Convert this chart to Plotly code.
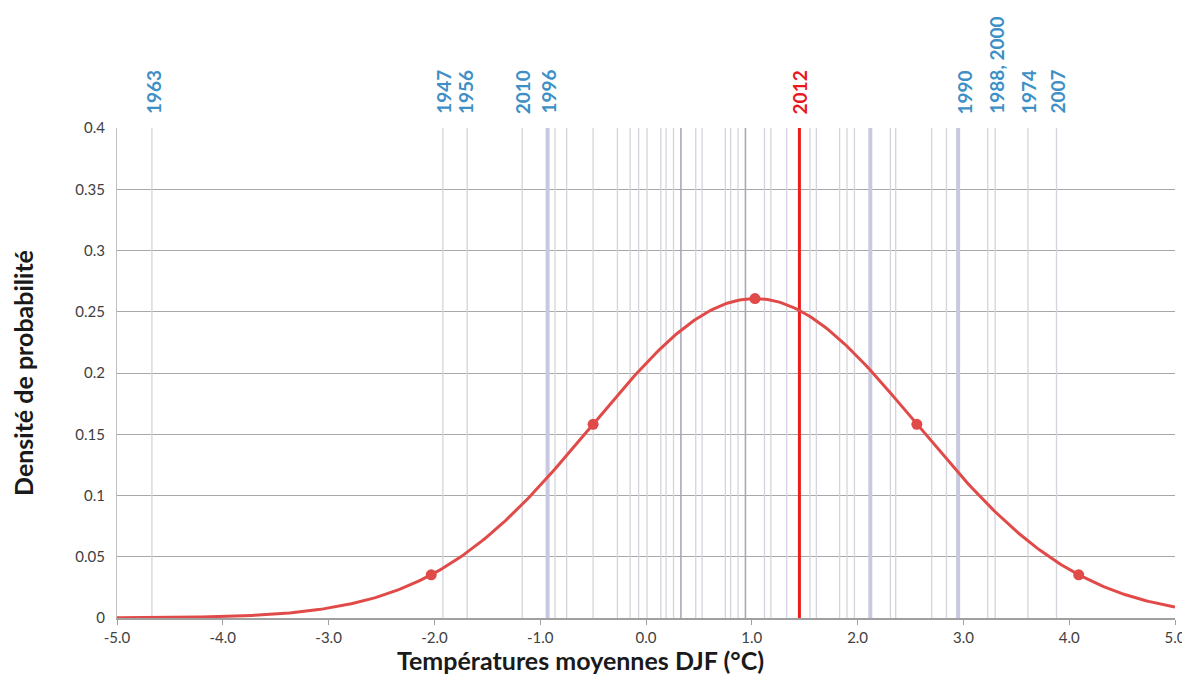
import plotly.graph_objects as go
import numpy as np

# ---- data ----
mean_temp = 1.03
sd_temp = 1.53
sigma_steps = [-2, -1, 0, 1, 2]

grey_temps = [-4.67, -1.92, -1.69, -1.17, -0.86, -0.75, -0.50, -0.27, -0.15, -0.07,
              0.01, 0.14, 0.19, 0.26, 0.47, 0.53, 0.75, 0.80, 0.87, 1.12, 1.18, 1.33,
              1.55, 1.61, 1.83, 1.90, 1.97, 2.31, 2.36, 2.70, 2.84, 3.23, 3.30, 3.61, 3.88]
dark_temps = [0.33, 0.94]
lavender_temps = [-0.93, 2.12, 2.95]
year_2012 = 1.45

label_texts = ["1963", "1947", "1956", "2010", "1996", "1990", "1988, 2000", "1974", "2007"]
label_temps = [-4.66, -1.92, -1.71, -1.17, -0.93, 3.01, 3.31, 3.61, 3.88]
red_label = "2012"

x_ticks = [-5, -4, -3, -2, -1, 0, 1, 2, 3, 4, 5]
x_ticklabels = ["-5.0", "-4.0", "-3.0", "-2.0", "-1.0", "0.0", "1.0", "2.0", "3.0", "4.0", "5.0"]
y_ticks = [0, 0.05, 0.1, 0.15, 0.2, 0.25, 0.3, 0.35, 0.4]
y_ticklabels = ["0", "0.05", "0.1", "0.15", "0.2", "0.25", "0.3", "0.35", "0.4"]

x_title = "Températures moyennes DJF (°C)"
y_title = "Densité de probabilité"


def vlines(vals):
    xs, ys = [], []
    for v in vals:
        xs += [v, v, None]
        ys += [0, 0.4, None]
    return xs, ys


def pdf(x):
    x = np.asarray(x, dtype=float)
    return np.exp(-0.5 * ((x - mean_temp) / sd_temp) ** 2) / (sd_temp * np.sqrt(2 * np.pi))


fig = go.Figure()

for vals, col, w in [(grey_temps, "#d4d4dc", 1.3), (dark_temps, "#a8a8bc", 1.6),
                     (lavender_temps, "#c8c8e0", 4)]:
    xs, ys = vlines(vals)
    fig.add_trace(go.Scatter(x=xs, y=ys, mode="lines", line=dict(color=col, width=w),
                             hoverinfo="skip", showlegend=False))

xs, ys = vlines([year_2012])
fig.add_trace(go.Scatter(x=xs, y=ys, mode="lines", line=dict(color="#ee1c1c", width=3),
                         hoverinfo="skip", showlegend=False))

xc = np.linspace(-5, 5, 401)
fig.add_trace(go.Scatter(x=xc, y=pdf(xc), mode="lines",
                         line=dict(color="#e04a48", width=3), showlegend=False))
xp = [mean_temp + k * sd_temp for k in sigma_steps]
fig.add_trace(go.Scatter(x=xp, y=pdf(xp), mode="markers",
                         marker=dict(color="#e04a48", size=11), showlegend=False))

lab_font = "Lato, Open Sans, sans-serif"
for t, v in zip(label_texts, label_temps):
    fig.add_annotation(x=v, y=1, xref="x", yref="paper", text="<b>" + t + "</b>", showarrow=False,
                       textangle=-90, xanchor="center", yanchor="bottom", yshift=12,
                       font=dict(family=lab_font, size=19, color="#3d8fc6"))
fig.add_annotation(x=year_2012, y=1, xref="x", yref="paper", text="<b>" + red_label + "</b>",
                   showarrow=False, textangle=-90, xanchor="center", yanchor="bottom", yshift=12,
                   font=dict(family=lab_font, size=19, color="#e8191e"))

# x-axis title (placed as in the reference, left of plot centre)
fig.add_annotation(x=0.438, y=0, xref="paper", yref="paper", text="<b>" + x_title + "</b>",
                   showarrow=False, xanchor="center", yanchor="top", yshift=-25,
                   font=dict(family=lab_font, size=25, color="#1a1a1a"))

fig.update_layout(
    width=1182, height=672,
    margin=dict(l=109, r=15, t=120, b=62),
    paper_bgcolor="white", plot_bgcolor="white",
    xaxis=dict(range=[-5, 5], tickvals=x_ticks, ticktext=x_ticklabels, showgrid=False,
               automargin=False,
               zeroline=False, showline=True, linecolor="#a0a0a0", linewidth=1.5,
               ticks="outside", tickcolor="#a0a0a0", ticklen=5,
               tickfont=dict(family="Lato, sans-serif", size=15, color="#404040")),
    yaxis=dict(range=[0, 0.4], tickvals=y_ticks, ticktext=y_ticklabels, showgrid=True,
               automargin=False,
               gridcolor="#a8a8a8", gridwidth=1.2, zeroline=False, showline=True,
               linecolor="#c0c0c0", linewidth=1, ticks="", ticklabelstandoff=8,
               tickfont=dict(family="Lato, sans-serif", size=15, color="#404040"),
               title=dict(text="<b>" + y_title + "</b>", standoff=46,
                          font=dict(family=lab_font, size=25, color="#1a1a1a"))),
)

fig.write_html("out.html")
